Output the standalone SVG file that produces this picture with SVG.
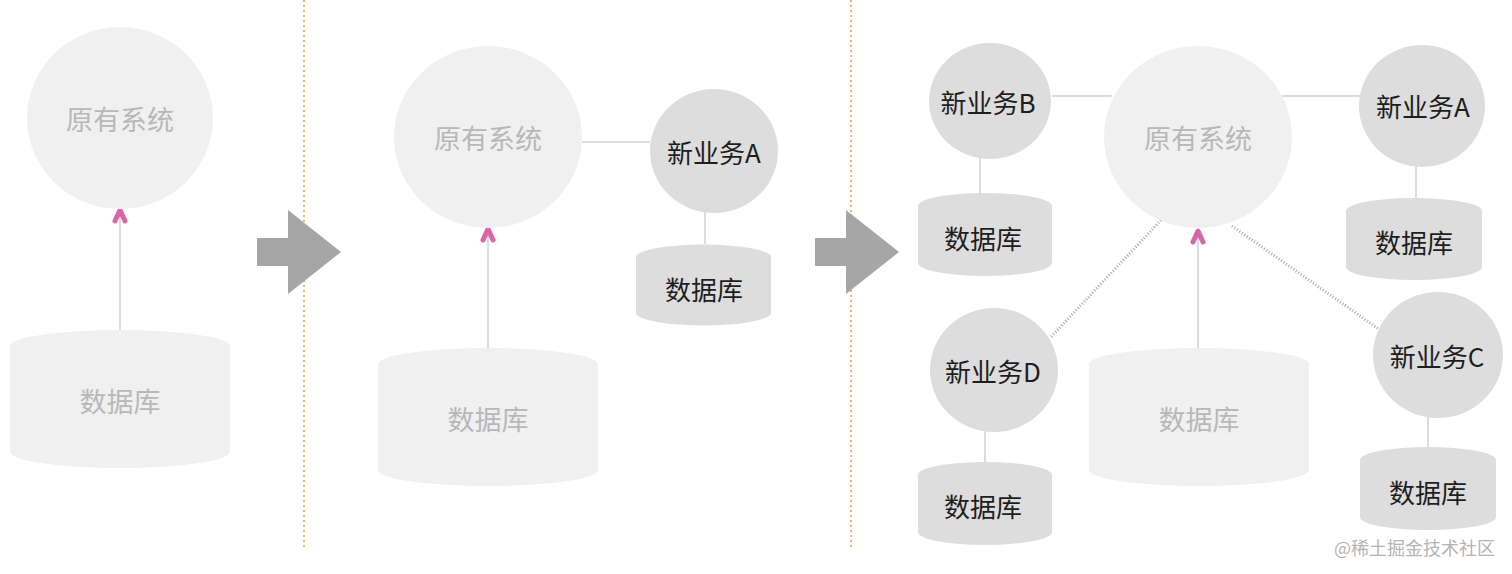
<svg xmlns="http://www.w3.org/2000/svg" width="1512" height="574" viewBox="0 0 1512 574">
<style>
.old{fill:#f0f0f0}
.new{fill:#dddddd}
.lo{font-family:"Noto Sans CJK SC","Noto Sans",sans-serif;font-size:27px;fill:#b8b8b8;text-anchor:middle;dominant-baseline:central}
.ln{font-family:"Noto Sans CJK SC","Noto Sans",sans-serif;font-size:26px;fill:#1e1e1e;text-anchor:middle;dominant-baseline:central}
.c{stroke:#dcdcdc;stroke-width:2;fill:none}
.d{stroke:#a8a8a8;stroke-width:3;stroke-dasharray:1 2;fill:none}
.sep{stroke:#dca23c;stroke-width:1.5;stroke-dasharray:2 3;fill:none}
.big{fill:#a6a6a6}
.pk{fill:none;stroke:#d967a8;stroke-width:5;stroke-linecap:round;stroke-linejoin:round}
.wm{font-family:"Noto Sans CJK SC","Noto Sans",sans-serif;font-size:18px;fill:#b4b4b4}
</style>

<g id="separators">
<line class="sep" x1="304" y1="0" x2="304" y2="548"/>
<line class="sep" x1="851" y1="0" x2="851" y2="548"/>
</g>

<g id="step-arrows">
<path class="big" d="M257,238 H288 V210 L341,252 L288,294 V266 H257 Z"/>
<path class="big" d="M815,238 H846 V210 L899,252 L846,294 V266 H815 Z"/>
</g>

<g id="connectors">
<line class="c" x1="120" y1="330" x2="120" y2="212"/>
<line class="c" x1="488" y1="348" x2="488" y2="231"/>
<line class="c" x1="582" y1="142" x2="650" y2="142"/>
<line class="c" x1="705" y1="212" x2="705" y2="244"/>
<line class="c" x1="1198" y1="348" x2="1198" y2="233"/>
<line class="c" x1="1052" y1="96" x2="1112" y2="96"/>
<line class="c" x1="1282" y1="96" x2="1362" y2="96"/>
<line class="c" x1="980" y1="157" x2="980" y2="194"/>
<line class="c" x1="1416" y1="165" x2="1416" y2="199"/>
<line class="c" x1="985" y1="430" x2="985" y2="463"/>
<line class="c" x1="1428" y1="417" x2="1428" y2="448"/>
<line class="d" x1="1163" y1="218" x2="1050" y2="338"/>
<line class="d" x1="1232" y1="226" x2="1380" y2="330"/>
<path class="pk" d="M115,221 L120,210 L125,221"/>
<path class="pk" d="M483,240 L488,229 L493,240"/>
<path class="pk" d="M1193,242 L1198,231 L1203,242"/>
</g>

<g id="p1-system">
<ellipse class="old" cx="120" cy="118" rx="93" ry="91"/>
<text class="lo" x="120" y="118">原有系统</text>
</g>
<g id="p1-db">
<path class="old" d="M10,346 A110,16 0 0 1 230,346 L230,452 A110,16 0 0 1 10,452 Z"/>
<text class="lo" x="120" y="400">数据库</text>
</g>

<g id="p2-system">
<ellipse class="old" cx="488" cy="137" rx="94" ry="91"/>
<text class="lo" x="488" y="137">原有系统</text>
</g>
<g id="p2-db">
<path class="old" d="M378,364 A110,16 0 0 1 598,364 L598,470 A110,16 0 0 1 378,470 Z"/>
<text class="lo" x="488" y="418">数据库</text>
</g>
<g id="p2-newA">
<ellipse class="new" cx="714" cy="151" rx="64" ry="62"/>
<text class="ln" x="714" y="151">新业务A</text>
</g>
<g id="p2-dbA">
<path class="new" d="M636,256 A68,13 0 0 1 771,256 L771,314 A68,13 0 0 1 636,314 Z"/>
<text class="ln" x="704" y="288">数据库</text>
</g>

<g id="p3-system">
<ellipse class="old" cx="1198" cy="137" rx="94" ry="91"/>
<text class="lo" x="1198" y="137">原有系统</text>
</g>
<g id="p3-db">
<path class="old" d="M1089,364 A110,16 0 0 1 1309,364 L1309,470 A110,16 0 0 1 1089,470 Z"/>
<text class="lo" x="1199" y="418">数据库</text>
</g>
<g id="p3-newB">
<ellipse class="new" cx="990" cy="101" rx="61" ry="58"/>
<text class="ln" x="988" y="101">新业务B</text>
</g>
<g id="p3-dbB">
<path class="new" d="M918,206 A67,13 0 0 1 1052,206 L1052,263 A67,13 0 0 1 918,263 Z"/>
<text class="ln" x="983" y="237">数据库</text>
</g>
<g id="p3-newA">
<ellipse class="new" cx="1422" cy="106" rx="63" ry="61"/>
<text class="ln" x="1423" y="105">新业务A</text>
</g>
<g id="p3-dbA">
<path class="new" d="M1346,211 A68,13 0 0 1 1482,211 L1482,267 A68,13 0 0 1 1346,267 Z"/>
<text class="ln" x="1414" y="241">数据库</text>
</g>
<g id="p3-newD">
<ellipse class="new" cx="994" cy="370" rx="64" ry="62"/>
<text class="ln" x="993" y="370">新业务D</text>
</g>
<g id="p3-dbD">
<path class="new" d="M918,475 A67,13 0 0 1 1052,475 L1052,532 A67,13 0 0 1 918,532 Z"/>
<text class="ln" x="983" y="505">数据库</text>
</g>
<g id="p3-newC">
<ellipse class="new" cx="1438" cy="355" rx="65" ry="63"/>
<text class="ln" x="1437" y="355">新业务C</text>
</g>
<g id="p3-dbC">
<path class="new" d="M1360,460 A68,13 0 0 1 1496,460 L1496,517 A68,13 0 0 1 1360,517 Z"/>
<text class="ln" x="1428" y="491">数据库</text>
</g>

<text class="wm" x="1334" y="555">@稀土掘金技术社区</text>
</svg>
